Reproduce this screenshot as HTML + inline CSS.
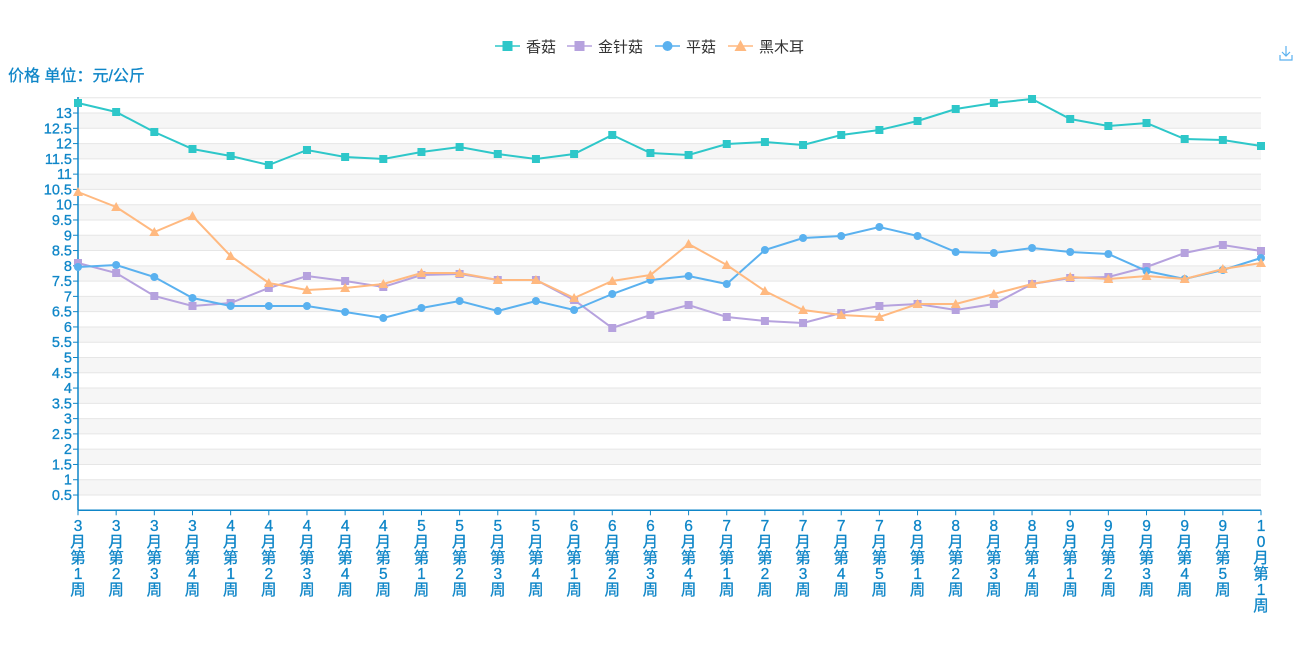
<!DOCTYPE html>
<html><head><meta charset="utf-8"><style>
body{margin:0;background:#fff;width:1300px;height:650px;overflow:hidden}
svg{display:block}
text{font-family:"Liberation Sans","Noto Sans CJK SC",sans-serif}
</style></head><body>
<svg id="s" width="1300" height="650" xmlns="http://www.w3.org/2000/svg"></svg>
<script>
const s=document.getElementById('s');let h='';
const X0=78,X1=1261,Y0=510.3,U=30.56;
for(let i=0;i<27;i++){const v=i*0.5;const y=Y0-v*U;const y2=Y0-(v+0.5)*U;
 if(i%2==1)h+=`<rect x="${X0}" y="${y2}" width="${X1-X0}" height="${U/2}" fill="#f6f6f6"/>`;
 if(i>0)h+=`<line x1="${X0}" x2="${X1}" y1="${y}" y2="${y}" stroke="#e6e6e6"/>`;}
h+=`<line x1="${X0}" x2="${X1}" y1="${Y0-13.5*U}" y2="${Y0-13.5*U}" stroke="#e6e6e6"/>`;
for(let i=1;i<=26;i++){const v=i*0.5;const y=Y0-v*U;
 h+=`<text x="72" y="${y+5}" text-anchor="end" font-size="14.5" fill="#0f86c8" stroke="#0f86c8" stroke-width="0.3">${v}</text><line x1="${X0-5}" x2="${X0}" y1="${y}" y2="${y}" stroke="#0f86c8"/>`;}
h+=`<line x1="${X0}" x2="${X0}" y1="97" y2="${Y0}" stroke="#0f86c8" stroke-width="1.5"/>`;
h+=`<line x1="${X0}" x2="${X1}" y1="${Y0}" y2="${Y0}" stroke="#0f86c8" stroke-width="1.5"/>`;
const labs=[];const mw=[[3,4],[4,5],[5,4],[6,4],[7,5],[8,4],[9,5]];
mw.forEach(([m,n])=>{for(let w=1;w<=n;w++)labs.push([String(m),'月','第',String(w),'周'])});
labs.push(['1','0','月','第','1','周']);
const dx=(X1-X0)/31;
labs.forEach((l,i)=>{const x=X0+i*dx;h+=`<line x1="${x}" x2="${x}" y1="${Y0}" y2="${Y0+5}" stroke="#0f86c8"/>`;
 l.forEach((c,j)=>h+=`<text x="${x}" y="${531+j*16}" text-anchor="middle" font-size="15.5" fill="#0f86c8" stroke="#0f86c8" stroke-width="0.3">${c}</text>`)});
const S=[
['#2ec7c9','sq',[103,112,132,149,156,165,150,157,159,152,147,154,159,154,135,153,155,144,142,145,135,130,121,109,103,99,119,126,123,139,140,146]],
['#b6a2de','sq',[263,273,296,306,303,288,276,281,287,275,274,280,280,300,328,315,305,317,321,323,313,306,304,310,304,284,278,277,267,253,245,251]],
['#5ab1ef','ci',[267,265,277,298,306,306,306,312,318,308,301,311,301,310,294,280,276,284,250,238,236,227,236,252,253,248,252,254,271,279,270,258]],
['#ffb980','tr',[192,207,232,216,256,283,290,288,284,273,273,280,280,298,281,275,244,265,291,310,315,317,304,304,294,284,277,279,276,279,269,263]]];
function mk(t,x,y,c,r){if(t=='sq')return `<rect x="${x-r}" y="${y-r}" width="${2*r}" height="${2*r}" fill="${c}"/>`;
 if(t=='ci')return `<circle cx="${x}" cy="${y}" r="${r}" fill="${c}"/>`;
 return `<polygon points="${x},${y-r-1} ${x-r-1},${y+r} ${x+r+1},${y+r}" fill="${c}"/>`;}
S.forEach(([c,t,d])=>{h+=`<polyline fill="none" stroke="${c}" stroke-width="2" points="${d.map((y,i)=>(X0+i*dx)+','+y).join(' ')}"/>`;
 d.forEach((y,i)=>h+=mk(t,X0+i*dx,y,c,4));});
const L=[[495,'香菇'],[567,'金针菇'],[655,'平菇'],[728,'黑木耳']];
L.forEach(([x,n],i)=>{const [c,t]=S[i];h+=`<line x1="${x}" x2="${x+25}" y1="46" y2="46" stroke="${c}" stroke-width="1.5"/>`+mk(t,x+12.5,46,c,5)+
 `<text x="${x+31}" y="52" font-size="15" fill="#333">${n}</text>`;});
h+=`<text x="8" y="81" font-size="16" fill="#0f86c8" stroke="#0f86c8" stroke-width="0.3">价格 单位：元/公斤</text>`;
h+=`<g stroke="#5ab1ef" fill="none" stroke-width="1.2"><path d="M1280 55v5h12v-5M1286 46v10M1282 52l4 4 4-4"/></g>`;
s.innerHTML=h;
</script>
</body></html>
